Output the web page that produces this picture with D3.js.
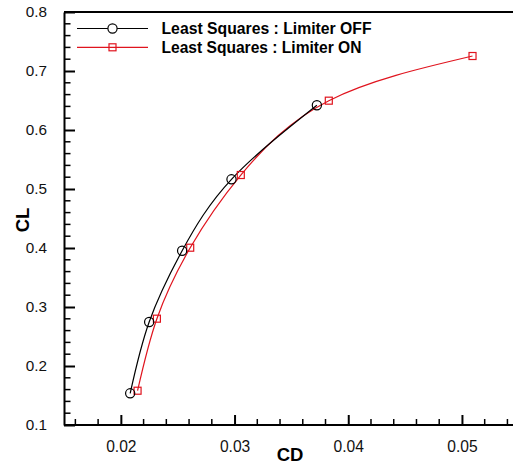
<!DOCTYPE html>
<html>
<head>
<meta charset="utf-8">
<script src="https://cdn.jsdelivr.net/npm/d3@7"></script>
<style>
  body { margin: 0; background: #fff; }
  svg { display: block; font-family: "Liberation Sans", Arial, sans-serif; }
</style>
</head>
<body>
<svg id="chart" width="513" height="467"></svg>
<script>
// series
const offCD = [0.02082, 0.02249, 0.02539, 0.02973, 0.03724];
const offCL = [0.1537, 0.2746, 0.3954, 0.5164, 0.6419];
const onCD = [0.02147, 0.02317, 0.02610, 0.03055, 0.03829, 0.05093];
const onCL = [0.1581, 0.2802, 0.4005, 0.5237, 0.6497, 0.7254];
const seriesNames = ["Least Squares : Limiter OFF", "Least Squares : Limiter ON"];
const xTicks = [0.02, 0.03, 0.04, 0.05];
const yTicks = [0.1, 0.2, 0.3, 0.4, 0.5, 0.6, 0.7, 0.8];

let svg = d3.select("#chart");
let plotLeft = 64, plotTop = 12, plotBottom = 425;

let x = d3.scaleLinear().domain([0.015, 0.055]).range([plotLeft, plotLeft + 454.8]);
let y = d3.scaleLinear().domain([0.1, 0.8]).range([plotBottom, plotTop]);

let xMinor = d3.range(0.016, 0.0555, 0.002).filter(v => Math.abs(v * 100 - Math.round(v * 100)) > 1e-6);
let yMinor = d3.range(0.12, 0.8, 0.02).filter(v => Math.abs(v * 10 - Math.round(v * 10)) > 1e-6);

// frame top line
svg.append("line").attr("x1", plotLeft).attr("x2", 513).attr("y1", plotTop).attr("y2", plotTop)
    .style("stroke", "#000").style("stroke-width", 2);

// bottom axis
let gx = svg.append("g").attr("transform", "translate(0," + plotBottom + ")");
gx.call(d3.axisBottom(x).tickValues(xTicks).tickSizeInner(-10).tickSizeOuter(0).tickPadding(16).tickFormat(d3.format(".2f")))
    .style("font-family", "Liberation Sans, Arial, sans-serif")
    .style("font-size", 15.6);
gx.select(".domain").attr("d", "M" + plotLeft + ",0H513").style("stroke-width", 2);
gx.selectAll(".tick line").style("stroke-width", 2);
gx.selectAll(".tick text").attr("fill", "#111");
gx.selectAll(".minor").data(xMinor).enter().append("line")
    .attr("x1", d => x(d)).attr("x2", d => x(d)).attr("y1", 0).attr("y2", -6)
    .style("stroke", "#000").style("stroke-width", 1.5);

// left axis
let gy = svg.append("g").attr("transform", "translate(" + plotLeft + ",0)");
gy.call(d3.axisLeft(y).tickValues(yTicks).tickSizeInner(-11).tickSizeOuter(0).tickPadding(17).tickFormat(d3.format(".1f")))
    .style("font-family", "Liberation Sans, Arial, sans-serif")
    .style("font-size", 15.3);
gy.select(".domain").style("stroke-width", 2);
gy.selectAll(".tick line").style("stroke-width", 2);
gy.selectAll(".tick text").attr("fill", "#111");
gy.selectAll(".minor").data(yMinor).enter().append("line")
    .attr("x1", 0).attr("x2", 6.5).attr("y1", d => y(d)).attr("y2", d => y(d))
    .style("stroke", "#000").style("stroke-width", 1.5);

// axis titles
svg.append("text").attr("x", 290).attr("y", 461).attr("text-anchor", "middle")
    .style("font-weight", "bold").style("font-size", 18.5).text("CD");
svg.append("text").attr("transform", "translate(29,220) rotate(-90)").attr("text-anchor", "middle")
    .style("font-weight", "bold").style("font-size", 18.5).text("CL");

// curves
let line = d3.line().x(d => x(d[0])).y(d => y(d[1])).curve(d3.curveNatural);
let offPts = offCD.map((d, i) => [d, offCL[i]]);
let onPts = onCD.map((d, i) => [d, onCL[i]]);
let red = "#e0141e";

svg.append("path").datum(onPts).attr("d", line)
    .style("fill", "none").style("stroke", red).style("stroke-width", 1.2);
svg.append("path").datum(offPts).attr("d", line)
    .style("fill", "none").style("stroke", "#000").style("stroke-width", 1.2);

svg.selectAll(".sq").data(onPts).enter().append("rect")
    .attr("x", d => x(d[0]) - 3.5).attr("y", d => y(d[1]) - 3.5)
    .attr("width", 7).attr("height", 7)
    .style("fill", "none").style("stroke", red).style("stroke-width", 1.2);
svg.selectAll(".circ").data(offPts).enter().append("circle")
    .attr("cx", d => x(d[0])).attr("cy", d => y(d[1])).attr("r", 4.6)
    .style("fill", "none").style("stroke", "#000").style("stroke-width", 1.2);

// legend
let legY = [28.5, 47.3];
let legW = [210, 200];
seriesNames.forEach(function (name, i) {
    let c = i == 0 ? "#000" : red;
    svg.append("line").attr("x1", 77).attr("x2", 148).attr("y1", legY[i]).attr("y2", legY[i])
        .style("stroke", c).style("stroke-width", 1.2);
    if (i == 0) {
        svg.append("circle").attr("cx", 112.5).attr("cy", legY[i]).attr("r", 4.6)
            .style("fill", "#fff").style("stroke", c).style("stroke-width", 1.2);
    } else {
        svg.append("rect").attr("x", 109).attr("y", legY[i] - 3.5).attr("width", 7).attr("height", 7)
            .style("fill", "none").style("stroke", c).style("stroke-width", 1.2);
    }
    svg.append("text").attr("x", 161.5).attr("y", legY[i]).attr("dy", "0.36em")
        .attr("textLength", legW[i]).attr("lengthAdjust", "spacingAndGlyphs")
        .style("font-weight", "bold").style("font-size", 16.3).text(name);
});
</script>
</body>
</html>
